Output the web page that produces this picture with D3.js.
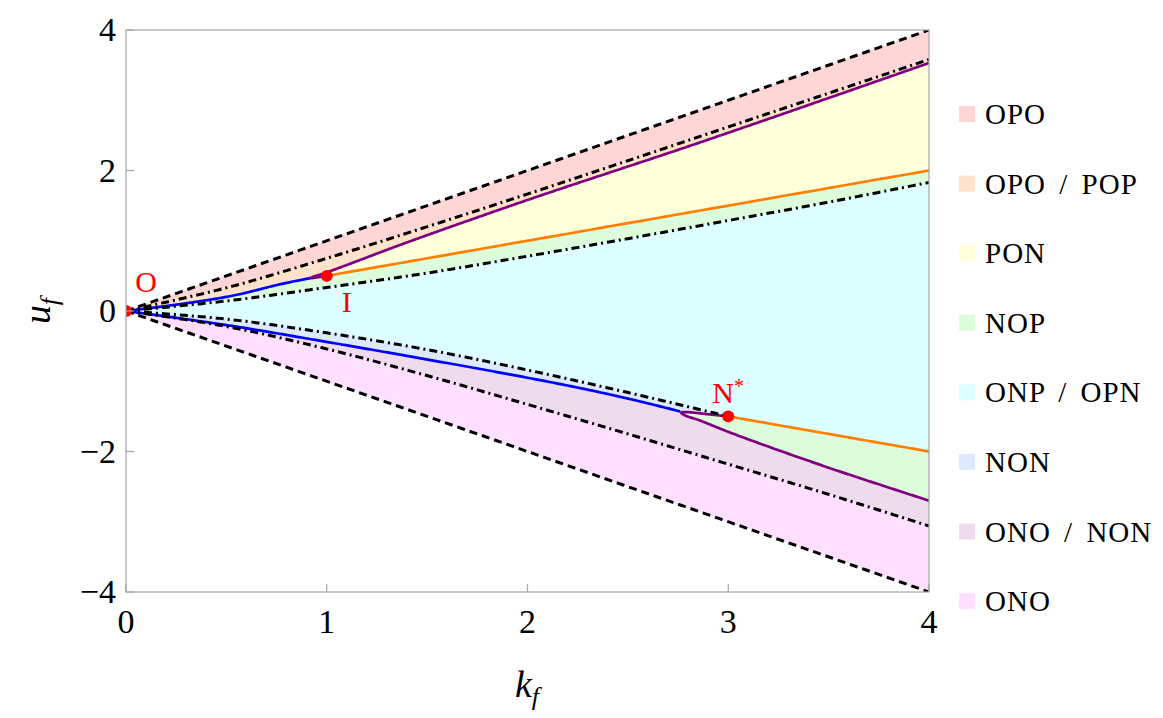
<!DOCTYPE html>
<html><head><meta charset="utf-8">
<script src="https://cdn.jsdelivr.net/npm/d3@7"></script>
<style>body{margin:0;background:#fff} svg{display:block}</style>
</head><body><svg id="c" width="1163" height="718"></svg>
<script>
// ---- data (k_f, u_f) ----
const kTicks = [0, 1, 2, 3, 4];
const uTicks = [-4, -2, 0, 2, 4];
const dashedUp = [[0,0],[4,4]];
const dashedLow = [[0,0],[4,-4]];
const dashDot1 = [[0,0],[0.5,0.33],[1,0.75],[1.5,1.2],[2,1.665],[2.5,2.14],[3,2.62],[3.5,3.1],[4,3.58]];
const dashDot2 = [[0,0],[0.5,0.143],[1,0.335],[1.5,0.54],[2,0.78],[2.5,1.03],[3,1.288],[3.5,1.55],[4,1.83]];
const dashDot3 = [[0,0],[0.5,-0.115],[1,-0.311],[1.5,-0.55],[2,-0.84],[2.5,-1.16],[3,-1.5]];
const dashDot4 = [[0,0],[0.5,-0.22],[1,-0.54],[1.5,-0.92],[2,-1.33],[2.5,-1.75],[3,-2.18],[3.5,-2.61],[4,-3.06]];
const blueUp = [[0,0],[0.25,0.09],[0.535,0.22],[0.767,0.38],[0.917,0.468]];
const blueLow = [[0,0],[0.5,-0.2],[1,-0.44],[1.5,-0.69],[2,-0.95],[2.3,-1.12],[2.55,-1.28],[2.76,-1.43]];
const purpleUp = [[1,0.5],[0.96,0.482],[0.917,0.468],[0.94,0.495],[1,0.55],[1.166,0.726],[1.365,0.94],[2,1.58],[2.86,2.40],[4,3.53]];
const purpleLow = [[3,-1.5],[2.9,-1.47],[2.8,-1.44],[2.765,-1.445],[2.78,-1.48],[2.86,-1.56],[3.0,-1.72],[3.19,-1.92],[3.52,-2.25],[4,-2.70]];
const orangeUp = [[1,0.5],[4,2]];
const orangeLow = [[3,-1.5],[4,-2]];
const pointNames = ["O","I","N"];
const pointK = [0, 1, 3];
const pointU = [0, 0.5, -1.5];
const legendNames = ["OPO","OPO / POP","PON","NOP","ONP / OPN","NON","ONO / NON","ONO"];
const legendColors = ["#ffd6d6","#ffe2cc","#ffffd9","#dcfcdc","#ddffff","#dde9ff","#eedcec","#ffdfff"];

// ---- layout ----
const svg = d3.select('#c');
const x = d3.scaleLinear().domain([0,4]).range([126,929]);
const y = d3.scaleLinear().domain([-4,4]).range([592,30]);
const serif = "Liberation Serif";

svg.append('defs').append('clipPath').attr('id','clip')
  .append('rect').attr('x',x(0)).attr('y',y(4)).attr('width',x(4)-x(0)).attr('height',y(-4)-y(4));

const tmp = svg.append('path').attr('fill','none').attr('stroke','none');
function dense(data, n) {
  const d = d3.line().x(p=>x(p[0])).y(p=>y(p[1])).curve(d3.curveCatmullRom.alpha(0.5))(data);
  tmp.attr('d', d);
  const node = tmp.node(), L = node.getTotalLength(), pts = [];
  for (let i = 0; i <= n; i++) { const p = node.getPointAtLength(L*i/n); pts.push([p.x,p.y]); }
  return pts;
}
const D = {
  dUp: dense(dashedUp,50), dLow: dense(dashedLow,50),
  dd1: dense(dashDot1,300), dd2: dense(dashDot2,300), dd3: dense(dashDot3,300), dd4: dense(dashDot4,300),
  bUp: dense(blueUp,150), bLow: dense(blueLow,200),
  pUp: dense(purpleUp,400), pLow: dense(purpleLow,400),
  oUp: dense(orangeUp,50), oLow: dense(orangeLow,50)
};
tmp.remove();
function splitAtMinX(pts){ let mi=0; pts.forEach((p,i)=>{ if(p[0]<pts[mi][0]) mi=i; }); return [pts.slice(0,mi+1), pts.slice(mi)]; }
const [pUpLoop, pUpMain] = splitAtMinX(D.pUp);
const [pLowLoop, pLowMain] = splitAtMinX(D.pLow);
const rev = a => a.slice().reverse();

const regions = [
  [D.dUp.concat(rev(D.dd1)), legendColors[0]],
  [D.dd1.concat(rev(D.bUp.concat(pUpMain))), legendColors[1]],
  [pUpMain.concat(rev(D.oUp), pUpLoop), legendColors[2]],
  [D.bUp.concat(rev(pUpLoop), D.oUp, rev(D.dd2)), legendColors[3]],
  [D.dd2.concat(rev(D.oLow), rev(D.dd3)), legendColors[4]],
  [D.dd3.concat(pLowLoop, rev(D.bLow)), legendColors[5]],
  [rev(pLowLoop).concat(D.oLow, rev(pLowMain)), legendColors[3]],
  [D.bLow.concat(pLowMain, rev(D.dd4)), legendColors[6]],
  [D.dd4.concat(rev(D.dLow)), legendColors[7]]
];
const plot = svg.append('g').attr('clip-path','url(#clip)');
const lin = d3.line();
plot.selectAll('path.reg').data(regions).join('path').attr('class','reg')
  .attr('d', r => lin(r[0]) + 'Z').attr('fill', r => r[1]).attr('stroke', r => r[1]).attr('stroke-width',0.6);

const colored = [[D.bUp,'#0000ff'],[D.bLow,'#0000ff'],[D.pUp,'#800080'],[D.pLow,'#800080'],[D.oUp,'#ff8000'],[D.oLow,'#ff8000']];
plot.selectAll('path.col').data(colored).join('path').attr('class','col')
  .attr('d', c => lin(c[0])).attr('fill','none').attr('stroke', c => c[1]).attr('stroke-width',2.7)
  .attr('stroke-linejoin','round');
const blacks = [[D.dUp,'8,5'],[D.dLow,'8,5'],[D.dd1,'8,4,2,4'],[D.dd2,'8,4,2,4'],[D.dd3,'8,4,2,4'],[D.dd4,'8,4,2,4']];
plot.selectAll('path.blk').data(blacks).join('path').attr('class','blk')
  .attr('d', c => lin(c[0])).attr('fill','none').attr('stroke','#000').attr('stroke-width',3)
  .attr('stroke-dasharray', c => c[1]);
plot.selectAll('circle').data(pointK).join('circle')
  .attr('cx', (d)=>x(d)).attr('cy',(d,i)=>y(pointU[i])).attr('r',6).attr('fill','#ff0000');

svg.append('rect').attr('x',x(0)).attr('y',y(4)).attr('width',x(4)-x(0)).attr('height',y(-4)-y(4))
  .attr('fill','none').attr('stroke','#a6a6a6').attr('stroke-width',1.2);
svg.selectAll('line.xt').data(kTicks).join('line').attr('class','xt')
  .attr('x1',d=>x(d)).attr('x2',d=>x(d)).attr('y1',y(-4)).attr('y2',y(-4)-8).attr('stroke','#a6a6a6').attr('stroke-width',1.2);
svg.selectAll('line.yt').data(uTicks).join('line').attr('class','yt')
  .attr('x1',x(0)).attr('x2',x(0)+8).attr('y1',d=>y(d)).attr('y2',d=>y(d)).attr('stroke','#a6a6a6').attr('stroke-width',1.2);
const fmt = d => d < 0 ? '\u2212' + Math.abs(d) : String(d);
svg.selectAll('text.xl').data(kTicks).join('text').attr('class','xl')
  .attr('x',d=>x(d)).attr('y',y(-4)+41).attr('text-anchor','middle')
  .attr('font-family',serif).attr('font-size',34).text(fmt);
svg.selectAll('text.yl').data(uTicks).join('text').attr('class','yl')
  .attr('x',x(0)-10).attr('y',d=>y(d)+11).attr('text-anchor','end')
  .attr('font-family',serif).attr('font-size',34).text(fmt);

const kt = svg.append('text').attr('x',527).attr('y',697).attr('text-anchor','middle')
  .attr('font-family',serif).attr('font-size',38).attr('font-style','italic');
kt.append('tspan').text('k');
kt.append('tspan').attr('dy',8).attr('font-size',26).text('f');
const ut = svg.append('text').attr('transform','translate(50,' + y(0) + ') rotate(-90)')
  .attr('text-anchor','middle').attr('font-family',serif).attr('font-size',38).attr('font-style','italic');
ut.append('tspan').text('u');
ut.append('tspan').attr('dy',8).attr('font-size',26).text('f');

svg.append('text').attr('x',x(0)+20).attr('y',y(0)-19).attr('text-anchor','middle')
  .attr('font-family',serif).attr('font-size',30).attr('fill','#ff0000').text(pointNames[0]);
svg.append('text').attr('x',x(1)+20).attr('y',y(0.5)+36).attr('text-anchor','middle')
  .attr('font-family',serif).attr('font-size',30).attr('fill','#ff0000').text(pointNames[1]);
const nt = svg.append('text').attr('x',x(3)-16).attr('y',y(-1.5)-13)
  .attr('font-family',serif).attr('font-size',30).attr('fill','#ff0000');
nt.append('tspan').text(pointNames[2]);
nt.append('tspan').attr('dy',-10).attr('font-size',20).text('*');

const lg = svg.append('g');
const rowY = i => 114 + i*69.6;
lg.selectAll('rect').data(legendNames).join('rect')
  .attr('x',959).attr('y',(d,i)=>rowY(i)-8).attr('width',16).attr('height',16).attr('fill',(d,i)=>legendColors[i]);
lg.selectAll('text').data(legendNames).join('text')
  .attr('x',985).attr('y',(d,i)=>rowY(i)+10)
  .attr('font-family',serif).attr('font-size',29).attr('letter-spacing',1).attr('word-spacing',5).text(d=>d);
</script>
</body></html>
